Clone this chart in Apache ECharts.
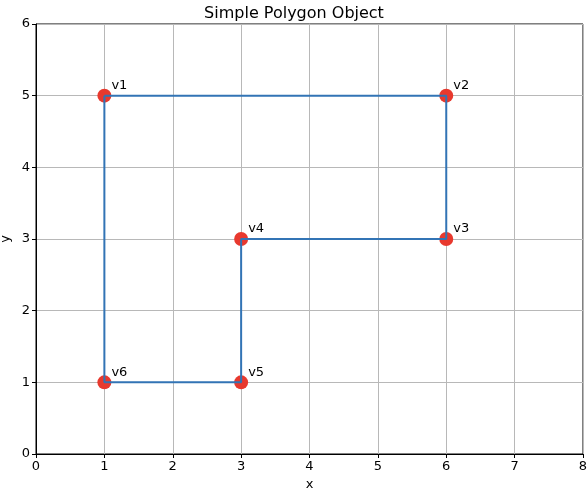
<!DOCTYPE html>
<html>
<head>
<meta charset="utf-8">
<script src="https://cdn.jsdelivr.net/npm/echarts@6/dist/echarts.min.js"></script>
<style>
  html, body { margin: 0; padding: 0; background: #fff; }
  #chart { width: 588px; height: 489px; }
</style>
</head>
<body>
<div id="chart"></div>
<script>
const vertexNames = ["v1", "v2", "v3", "v4", "v5", "v6"];
const vertexX = [1, 6, 6, 3, 3, 1];
const vertexY = [5, 5, 3, 3, 1, 1];

const points = vertexX.map((x, i) => [x, vertexY[i]]);
const closed = points.concat([points[0]]);

const chart = echarts.init(document.getElementById("chart"));
const axisCommon = {
  type: "value",
  interval: 1,
  axisLine: { show: true, lineStyle: { color: "#000", width: 1 } },
  axisTick: { show: true, inside: false, length: 4, lineStyle: { color: "#000" } },
  axisLabel: { color: "#000", fontSize: 13, fontFamily: "DejaVu Sans", margin: 6 },
  splitLine: { show: true, lineStyle: { color: "#b8b8b8", width: 1 } },
  nameTextStyle: { color: "#000", fontSize: 13, fontFamily: "DejaVu Sans" },
  nameMoveOverlap: false,
};
chart.setOption({
  animation: false,
  title: {
    text: "Simple Polygon Object",
    left: "center",
    top: 1,
    textStyle: { fontSize: 16, fontWeight: "normal", color: "#000", fontFamily: "DejaVu Sans" },
  },
  grid: {
    left: 36, right: 5, top: 24, bottom: 35,
    outerBoundsMode: "none",
    containLabel: false,
    show: true, borderColor: "#000", borderWidth: 1,
  },
  xAxis: Object.assign({}, axisCommon, {
    min: 0, max: 8,
    name: "x", nameLocation: "middle", nameGap: 24,
  }),
  yAxis: Object.assign({}, axisCommon, {
    min: 0, max: 6,
    name: "y", nameLocation: "middle", nameGap: 24,
  }),
  series: [
    {
      type: "scatter",
      data: points.map((p, i) => ({ value: p, name: vertexNames[i] })),
      symbolSize: 14,
      itemStyle: { color: "#e8392e", opacity: 1 },
      label: {
        show: true,
        formatter: (p) => p.name,
        position: "right",
        offset: [-5, -10],
        color: "#000",
        fontSize: 13,
        fontFamily: "DejaVu Sans",
      },
      z: 2,
    },
    {
      type: "line",
      data: closed,
      showSymbol: false,
      symbol: "none",
      lineStyle: { color: "#3274b5", width: 2 },
      z: 3,
    },
  ],
});
</script>
</body>
</html>
